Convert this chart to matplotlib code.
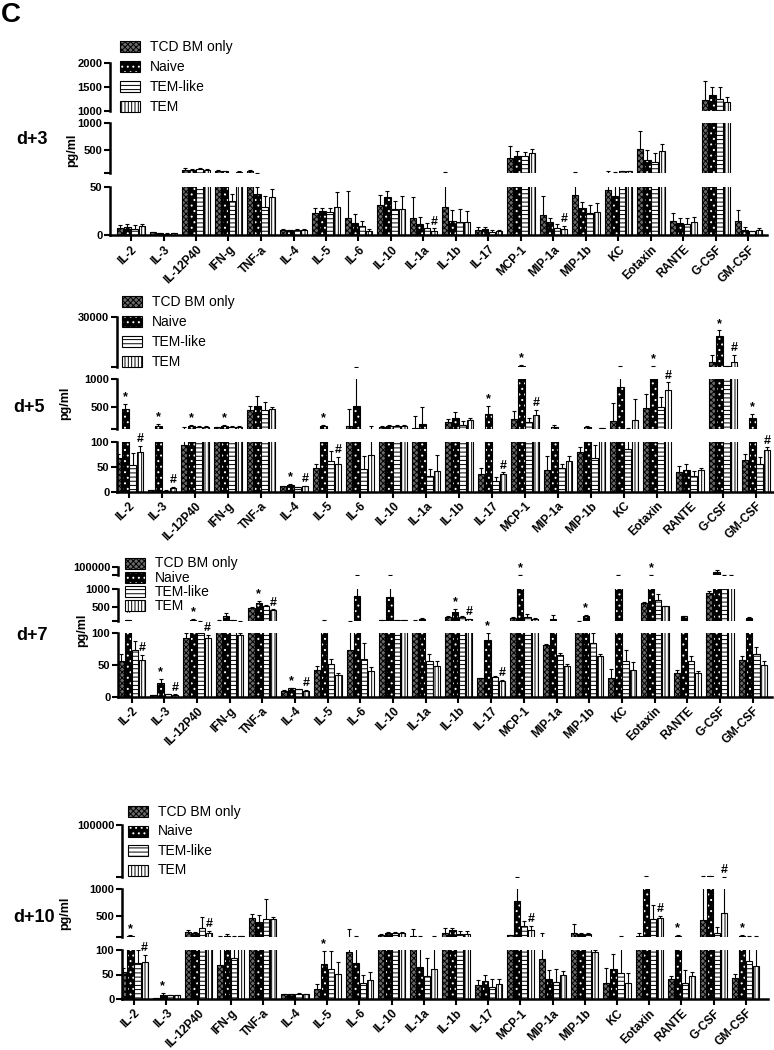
import numpy as np
import matplotlib
matplotlib.use("Agg")
import matplotlib.pyplot as plt
from matplotlib.patches import Rectangle

plt.rcParams['font.family'] = ['Liberation Sans', 'DejaVu Sans']
plt.rcParams['hatch.linewidth'] = 0.7

W, H = 774, 1050

cytokines = ["IL-2", "IL-3", "IL-12P40", "IFN-g", "TNF-a", "IL-4", "IL-5", "IL-6",
             "IL-10", "IL-1a", "IL-1b", "IL-17", "MCP-1", "MIP-1a", "MIP-1b", "KC",
             "Eotaxin", "RANTE", "G-CSF", "GM-CSF"]
groups = ["TCD BM only", "Naive", "TEM-like", "TEM"]

# each row: TCD BM only, Naive, TEM-like, TEM  (pg/ml)
d3_mean = [(7.8, 8.5, 6.5, 10.2), (3.0, 2.4, 1.7, 2.4), (120, 110, 125, 115), (95, 90, 36, 80),
           (95, 43, 29, 40), (5.8, 5.5, 5.8, 5.8), (22.8, 25.5, 23.8, 29), (18, 12.6, 9.2, 4.4),
           (31.3, 39.8, 27.9, 27.9), (18, 11.9, 7.8, 4.4), (29, 15.3, 13.6, 13.6), (6, 6.8, 3.4, 4.4),
           (337, 375, 375, 431), (21.4, 13.6, 7.8, 6.8), (42.5, 28.2, 22.8, 24.5), (47.5, 41.3, 90, 85),
           (512, 294, 262, 475), (15.3, 12.6, 11.9, 13.6), (1225, 1331, 1239, 1190), (15.3, 5.1, 4.4, 5.1)]
d3_err = [(2.5, 3.5, 4.5, 1.8), (0.7, 0.5, 0.4, 0.5), (25, 20, 25, 20), (10, 8, 7, 10),
          (10, 7.5, 12, 8), (0.5, 0.4, 0.3, 0.4), (6, 3, 5, 16), (28, 10, 5.4, 2.4),
          (11, 6, 8, 13), (22, 7.5, 5.5, 3), (55, 11, 13.6, 12), (3, 1.7, 2.4, 1.4),
          (224, 106, 87, 81), (20, 4.4, 4, 3.4), (38, 7, 8.5, 9.5), (38, 40, 10, 8),
          (344, 200, 169, 125), (7.5, 5.4, 6, 5.8), (409, 176, 254, 106), (11, 3.4, 0.5, 2)]
d3_star = []
d3_hash = ["IL-1a", "MIP-1a"]

d5_mean = [(67.8, 470, 54.6, 80), (3.3, 167, 2, 8), (95, 160, 145, 150), (140, 165, 150, 148),
           (453, 522, 448, 470), (11, 14.5, 10, 11), (47, 155, 62.5, 57), (167, 512, 45, 75),
           (150, 160, 155, 160), (130, 202, 31, 42), (226, 304, 185, 262), (36, 375, 21, 36),
           (286, 1600, 226, 363), (43, 145, 47, 62.5), (80, 140, 68, 125), (244, 857, 87, 274),
           (476, 1100, 500, 798), (39, 44, 32, 43), (3900, 19000, 1300, 3500), (65, 304, 56, 83.5)]
d5_err = [(9, 83, 24, 13), (0.5, 35, 0.5, 2), (45, 25, 15, 15), (5, 20, 10, 8),
          (72, 166, 136, 36), (1.5, 1.5, 0.5, 1), (10, 20, 20, 13), (297, 600, 27, 80),
          (15, 20, 15, 25), (200, 300, 14, 32), (66, 100, 59, 36), (11, 137, 8, 3),
          (150, 300, 78, 90), (29, 30, 9, 10), (10, 20, 27, 5), (327, 300, 45, 370),
          (256, 400, 179, 142), (13, 12, 9, 4), (3900, 3000, 100, 4300), (12, 77, 14, 6.5)]
d5_star = ["IL-2", "IL-3", "IL-12P40", "IFN-g", "IL-4", "IL-5", "IL-17", "MCP-1",
           "Eotaxin", "G-CSF", "GM-CSF"]
d5_hash = ["IL-2", "IL-3", "IL-4", "IL-5", "IL-17", "MCP-1", "Eotaxin", "G-CSF", "GM-CSF"]

d7_mean = [(56, 120, 73, 58.5), (2.7, 22, 3.7, 3.2), (92, 140, 100, 93), (110, 230, 120, 98),
           (470, 615, 525, 410), (9.6, 13.3, 12, 9.6), (41.5, 110, 52, 34.6), (73, 808, 60, 40),
           (135, 788, 130, 130), (110, 155, 56, 49), (212, 356, 212, 144), (29, 90, 31, 25.5),
           (192, 1500, 212, 163), (81, 163, 65, 48), (105, 230, 84, 64), (29, 1500, 57, 42.5),
           (615, 1500, 692, 519), (38, 230, 57, 37), (885, 40000, 1200, 1200), (58.5, 192, 68, 50.5)]
d7_err = [(12, 20, 15, 8), (0.5, 6, 0.5, 0.5), (8, 20, 3, 5), (5, 100, 10, 3),
          (20, 58, 29, 19), (1, 1, 0.5, 1), (7.5, 5, 8, 2.6), (30, 300, 25, 7),
          (5, 300, 5, 5), (5, 30, 11.5, 7), (20, 77, 20, 10), (1, 10, 1.5, 1),
          (10, 500, 76, 10), (2, 97, 4, 4), (5, 50, 16, 3), (15, 200, 17, 13),
          (30, 300, 173, 19), (4, 10, 7, 3), (60, 25000, 100, 100), (5.5, 10, 11, 5.5)]
d7_star = ["IL-2", "IL-3", "IL-12P40", "TNF-a", "IL-4", "IL-1b", "IL-17", "MCP-1",
           "MIP-1b", "Eotaxin"]
d7_hash = ["IL-2", "IL-3", "IL-12P40", "TNF-a", "IL-4", "IL-1b", "IL-17"]

d10_mean = [(54.7, 115, 73, 76), (2, 9, 7.4, 7.4), (198, 167, 272, 167), (69.6, 117, 83, 110),
            (457, 383, 426, 426), (9.5, 9.5, 9.5, 10.5), (21, 71, 61.5, 50.7), (95, 74, 32, 39),
            (136, 167, 167, 167), (117, 66, 47, 61.5), (179, 222, 160, 160), (29, 36, 23.6, 30.4),
            (136, 778, 302, 228), (81.8, 41, 34.5, 49), (167, 148, 148, 95), (32, 61.5, 53, 32),
            (117, 1200, 426, 444), (41, 117, 32, 46), (407, 1500, 179, 549), (42.6, 117, 77.7, 68)]
d10_err = [(9.5, 10, 27, 14), (0.3, 3, 0.5, 0.5), (24, 31, 197, 43), (45, 31, 34, 10),
           (74, 123, 389, 55), (0.5, 0.5, 2, 0.5), (9, 27, 36, 25), (145, 43, 16, 16),
           (10, 20, 25, 20), (123, 50, 36, 55), (93, 50, 50, 50), (10, 13, 17, 10),
           (5, 250, 93, 74), (97, 18, 27, 8), (180, 31, 31, 5), (31, 31, 60, 21),
           (62, 200, 278, 44), (5, 10, 27, 10), (1100, 500, 105, 600), (8, 10, 40, 50)]
d10_star = ["IL-2", "IL-3", "IL-5", "RANTE", "GM-CSF"]
d10_hash = ["IL-2", "IL-12P40", "MCP-1", "Eotaxin", "G-CSF"]

# face colour, hatch colour, hatch
styles = [("#6a6a6a", "black", "xxxxxx"),
          ("black", "white", "..."),
          ("white", "black", "----"),
          ("white", "black", "|||||")]

# segments: (lo, hi, top px, bottom px, ticks, tick labels), ordered bottom -> top
layouts = [
    dict(name="d+3", name_xy=(32, 140), unit_xy=(72, 150), x0=110, x1=767, t0=131, sp=32.5,
         legend=(120, 46.7, 20.0),
         segs=[(0, 50, 187.3, 235.3, [0, 50], ["0", "50"]),
               (50, 1000, 123.3, 173.3, [50, 500, 1000], ["", "500", "1000"]),
               (1000, 2000, 63.3, 110.7, [1000, 1500, 2000], ["1000", "1500", "2000"])]),
    dict(name="d+5", name_xy=(29, 408), unit_xy=(65, 403), x0=117, x1=773, t0=129, sp=33.0,
         legend=(122, 301.7, 20.0),
         segs=[(0, 100, 442.3, 491.7, [0, 50, 100], ["0", "50", "100"]),
               (100, 1000, 379, 429.3, [100, 500, 1000], ["", "500", "1000"]),
               (1000, 30000, 316.7, 366.7, [1000, 30000], ["", "30000"])]),
    dict(name="d+7", name_xy=(32, 635), unit_xy=(82, 630), x0=118, x1=772, t0=131.5, sp=32.7,
         legend=(125, 563.3, 14.2),
         segs=[(0, 100, 633.3, 696.7, [0, 50, 100], ["0", "50", "100"]),
               (100, 1000, 589.3, 621, [100, 500, 1000], ["", "500", "1000"]),
               (1000, 100000, 566.7, 575, [1000, 100000], ["", "100000"])]),
    dict(name="d+10", name_xy=(34, 917), unit_xy=(65, 913), x0=122, x1=768, t0=134, sp=32.2,
         legend=(128, 811.7, 19.5),
         segs=[(0, 100, 950, 999, [0, 50, 100], ["0", "50", "100"]),
               (100, 1000, 889, 936.7, [100, 500, 1000], ["", "500", "1000"]),
               (1000, 100000, 825, 876.7, [1000, 100000], ["", "100000"])]),
]

panels = [(d3_mean, d3_err, d3_star, d3_hash),
          (d5_mean, d5_err, d5_star, d5_hash),
          (d7_mean, d7_err, d7_star, d7_hash),
          (d10_mean, d10_err, d10_star, d10_hash)]

fig = plt.figure(figsize=(W / 100, H / 100), dpi=100)

offsets = np.array([-0.33, -0.11, 0.11, 0.33])
bw = 0.19
x = np.arange(len(cytokines))


def px_axes(x0, x1, ytop, ybot):
    return fig.add_axes([x0 / W, 1 - ybot / H, (x1 - x0) / W, (ybot - ytop) / H])


def find_seg(v, segs):
    for i, s in enumerate(segs):
        if s[0] <= v <= s[1]:
            return i, v
    for i, s in enumerate(segs):
        if v < s[0]:
            return i, s[0]
    return len(segs) - 1, segs[-1][1]


for lay, (mean, err, star, hsh) in zip(layouts, panels):
    mean = np.array(mean, dtype=float)
    err = np.array(err, dtype=float)
    xlim = ((lay["x0"] - lay["t0"]) / lay["sp"], (lay["x1"] - lay["t0"]) / lay["sp"])
    axes = []
    for k, (lo, hi, yt, yb, ticks, labels) in enumerate(lay["segs"]):
        ax = px_axes(lay["x0"], lay["x1"], yt, yb)
        ax.patch.set_visible(False)
        for g in range(4):
            face, hc, hatch = styles[g]
            vals = mean[:, g]
            tops = vals + err[:, g]
            # each segment only draws what reaches above its own floor
            show = vals > lo
            xs = x[show] + offsets[g]
            hts = vals[show] - lo
            ax.bar(xs, hts, bw, bottom=lo, color=face, edgecolor=hc, hatch=hatch, lw=0)
            ax.bar(xs, hts, bw, bottom=lo, fill=False, edgecolor="black", lw=0.8)
            up = tops > lo
            ax.vlines(x[up] + offsets[g], np.maximum(vals[up], lo), tops[up],
                      color="black", lw=0.8)
            ax.plot(x[up] + offsets[g], tops[up], ls="none", marker="_", ms=3.5,
                    mew=0.8, color="black")
        ax.set_xlim(*xlim)
        ax.set_ylim(lo, hi)
        ax.set_yticks(ticks)
        ax.set_yticklabels(labels, fontsize=8, fontweight="bold")
        ax.tick_params(axis="y", direction="out", length=4, width=1.5, pad=1.5)
        for sp in ["top", "right"]:
            ax.spines[sp].set_visible(False)
        ax.spines["left"].set_linewidth(1.8)
        if k == 0:
            ax.spines["bottom"].set_linewidth(1.8)
            ax.set_xticks(x)
            ax.set_xticklabels(cytokines, rotation=45, ha="right", va="top",
                               rotation_mode="anchor", fontsize=8.5, fontweight="bold")
            ax.tick_params(axis="x", direction="out", length=4, width=1.5, pad=2)
        else:
            ax.spines["bottom"].set_visible(False)
            ax.tick_params(axis="x", bottom=False, labelbottom=False)
        axes.append(ax)

    # significance marks: * over Naive, # over TEM
    for names, g, mark in [(star, 1, "*"), (hsh, 3, "#")]:
        for nm in names:
            i = cytokines.index(nm)
            top = mean[i, g] + err[i, g]
            k, yv = find_seg(top, lay["segs"])
            axes[k].annotate(mark, (x[i] + offsets[g], yv), xytext=(0, 0.5),
                             textcoords="offset points", ha="center", va="bottom",
                             fontsize=9, fontweight="bold", annotation_clip=False)

    # legend drawn as hatched swatches
    lx, ly, step = lay["legend"]
    for j, name in enumerate(groups):
        face, hc, hatch = styles[j]
        yc = ly + j * step
        r = (lx / W, 1 - (yc + 5.5) / H)
        fig.add_artist(Rectangle(r, 20 / W, 11 / H, transform=fig.transFigure,
                                 facecolor=face, edgecolor=hc, hatch=hatch, lw=0, zorder=5))
        fig.add_artist(Rectangle(r, 20 / W, 11 / H, transform=fig.transFigure,
                                 fill=False, edgecolor="black", lw=0.8, zorder=5))
        fig.text((lx + 30) / W, 1 - yc / H, name, fontsize=10, ha="left", va="center", zorder=5)

    fig.text(lay["name_xy"][0] / W, 1 - lay["name_xy"][1] / H, lay["name"],
             fontsize=13, fontweight="bold", ha="center", va="center")
    fig.text(lay["unit_xy"][0] / W, 1 - lay["unit_xy"][1] / H, "pg/ml", rotation=90,
             fontsize=9, fontweight="bold", ha="center", va="center")

fig.text(11 / W, 1 - 15 / H, "C", fontsize=20, fontweight="bold", ha="center", va="center")

fig.savefig("out.png", dpi=100)
